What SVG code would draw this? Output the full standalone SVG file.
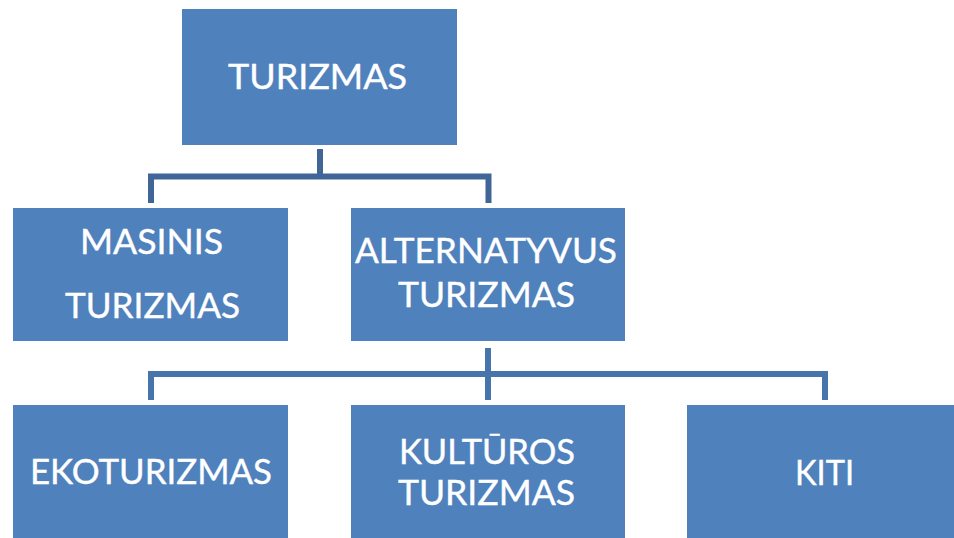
<svg xmlns="http://www.w3.org/2000/svg" width="954" height="538" viewBox="0 0 954 538">
<style>
.box{fill:#4F81BD;}
.t{fill:#FFFFFF;font-family:Lato,"Open Sans","Liberation Sans",sans-serif;font-size:34px;text-anchor:middle;stroke:#FFFFFF;stroke-width:0.4;}
.c1{fill:none;stroke:#3F6697;stroke-width:6;stroke-linejoin:miter;}
.c2{fill:none;stroke:#4674AB;stroke-width:6;stroke-linejoin:miter;}
</style>
<rect width="954" height="538" fill="#FFFFFF"/>
<g id="connectors">
<path class="c1" d="M320 149 V176.5 M151 203 V176.5 H488.5 V203"/>
<path class="c2" d="M488 348 V400 M151 400 V374 H825 V400"/>
</g>
<g id="turizmas">
<rect class="box" x="182" y="9" width="275" height="136"/>
<text class="t" x="317.5" y="89" textLength="179" lengthAdjust="spacingAndGlyphs">TURIZMAS</text>
</g>
<g id="masinis">
<rect class="box" x="13" y="208" width="275" height="133"/>
<text class="t" x="151.5" y="254" textLength="143" lengthAdjust="spacingAndGlyphs">MASINIS</text>
<text class="t" x="152.5" y="318" textLength="175" lengthAdjust="spacingAndGlyphs">TURIZMAS</text>
</g>
<g id="alternatyvus">
<rect class="box" x="351" y="208" width="274" height="133"/>
<text class="t" x="486" y="263" textLength="262" lengthAdjust="spacingAndGlyphs">ALTERNATYVUS</text>
<text class="t" x="486.5" y="307" textLength="177" lengthAdjust="spacingAndGlyphs">TURIZMAS</text>
</g>
<g id="ekoturizmas">
<rect class="box" x="13" y="405" width="275" height="133"/>
<text class="t" x="151" y="484" textLength="242" lengthAdjust="spacingAndGlyphs">EKOTURIZMAS</text>
</g>
<g id="kulturos">
<rect class="box" x="351" y="405" width="274" height="133"/>
<text class="t" x="487" y="464" textLength="176" lengthAdjust="spacingAndGlyphs">KULTŪROS</text>
<text class="t" x="486.5" y="505" textLength="177" lengthAdjust="spacingAndGlyphs">TURIZMAS</text>
</g>
<g id="kiti">
<rect class="box" x="687" y="405" width="267" height="133"/>
<text class="t" x="824.5" y="485" textLength="59" lengthAdjust="spacingAndGlyphs">KITI</text>
</g>
</svg>
